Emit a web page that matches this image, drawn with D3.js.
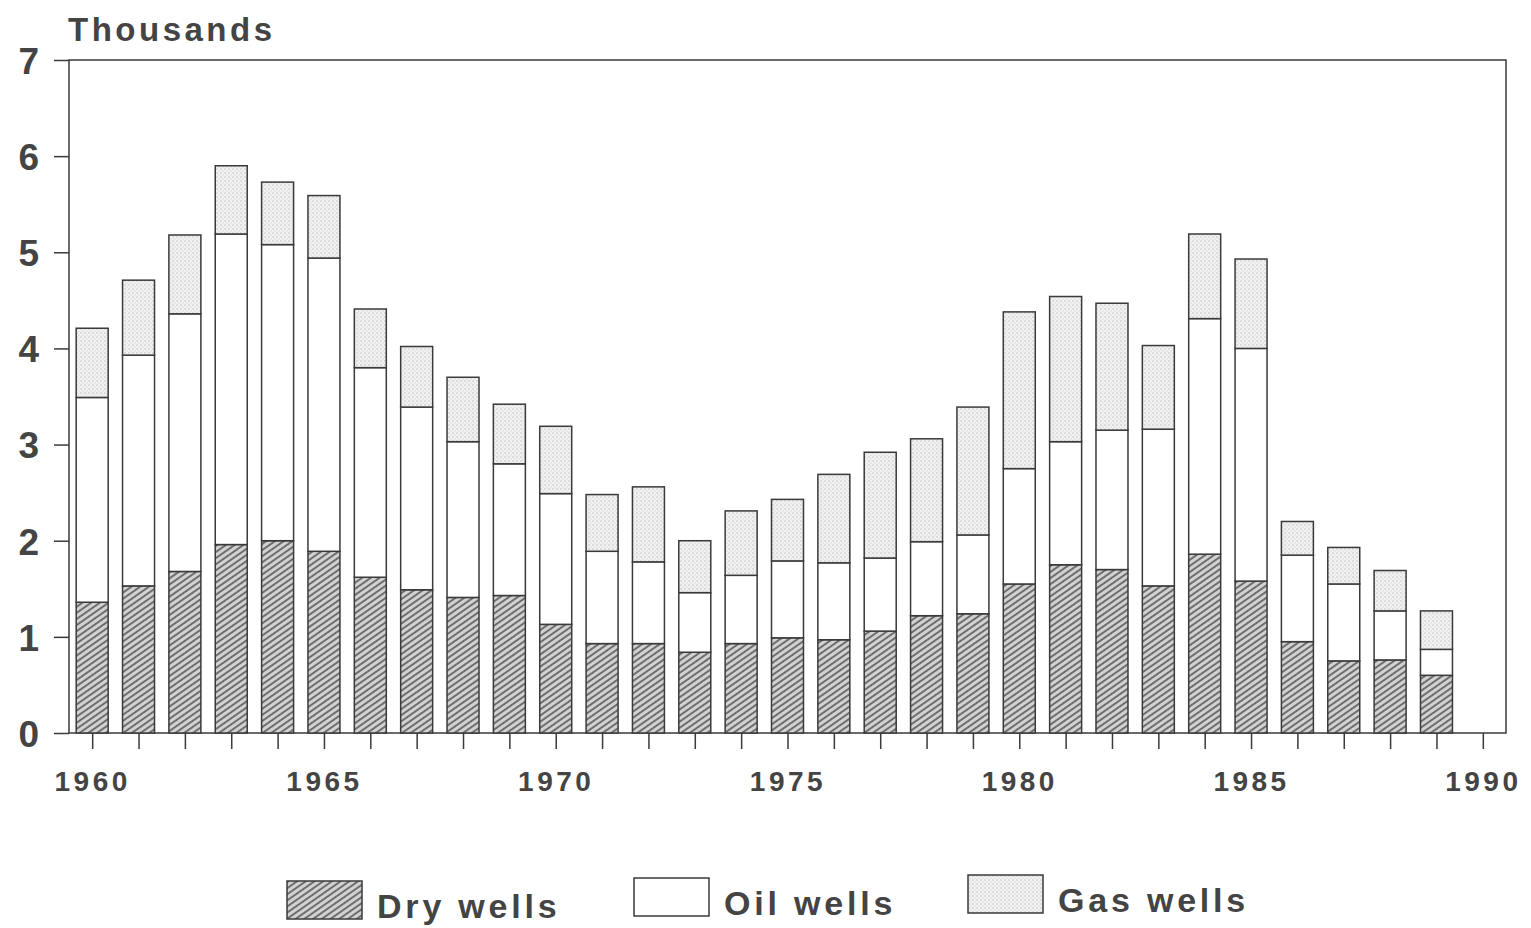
<!DOCTYPE html>
<html>
<head>
<meta charset="utf-8">
<script src="https://cdn.jsdelivr.net/npm/d3@7"></script>
<style>
  body { margin: 0; background: #fff; }
  svg text { font-family: "Liberation Sans", Arial, sans-serif; font-weight: bold; fill: #444; }
</style>
</head>
<body>
<svg width="1531" height="928"></svg>
<script>
// data (thousands of wells)
var years = d3.range(1960, 1990);
var dryWells = [1.36,1.53,1.68,1.96,2.00,1.89,1.62,1.49,1.41,1.43,1.13,0.93,0.93,0.84,0.93,0.99,0.97,1.06,1.22,1.24,1.55,1.75,1.70,1.53,1.86,1.58,0.95,0.75,0.76,0.60];
var oilWells = [2.13,2.40,2.68,3.23,3.08,3.05,2.18,1.90,1.62,1.37,1.36,0.96,0.85,0.62,0.71,0.80,0.80,0.76,0.77,0.82,1.20,1.28,1.45,1.63,2.45,2.42,0.90,0.80,0.51,0.27];
var gasWells = [0.72,0.78,0.82,0.71,0.65,0.65,0.61,0.63,0.67,0.62,0.70,0.59,0.78,0.54,0.67,0.64,0.92,1.10,1.07,1.33,1.63,1.51,1.32,0.87,0.88,0.93,0.35,0.38,0.42,0.40];
var seriesKeys = ["dry", "oil", "gas"];
var seriesLabels = ["Dry wells", "Oil wells", "Gas wells"];
var yTicks = [0,1,2,3,4,5,6,7];
var xLabelYears = [1960,1965,1970,1975,1980,1985,1990];

var table = years.map(function(y, i) {
    return { year: y, dry: dryWells[i], oil: oilWells[i], gas: gasWells[i] };
});

var svg = d3.select("svg");
// "top" is taken by window.top, so plot edges get their own names
var plotL = 69, plotR = 1506, plotT = 60, plotB = 733;

var x = d3.scaleLinear().domain([1959.5, 1990.5]).range([plotL, plotR]);
var y = d3.scaleLinear().domain([0, 7]).range([plotB, plotT]);
var barW = (x(1961) - x(1960)) * 0.69;
var ink = "#3a3a3a";

// patterns
var defs = svg.append("defs");
var hatch = defs.append("pattern")
    .attr("id", "hatch").attr("patternUnits", "userSpaceOnUse")
    .attr("width", 5).attr("height", 5)
    .attr("patternTransform", "rotate(-35)");
hatch.append("rect").attr("width", 5).attr("height", 5).attr("fill", "#d2d2d2");
hatch.append("line").attr("x1", 0).attr("y1", 1).attr("x2", 5).attr("y2", 1)
    .attr("stroke", "#555").attr("stroke-width", 1.6);

var dots = defs.append("pattern")
    .attr("id", "dots").attr("patternUnits", "userSpaceOnUse")
    .attr("width", 4).attr("height", 4);
dots.append("rect").attr("width", 4).attr("height", 4).attr("fill", "#f1f1f1");
dots.append("circle").attr("cx", 1).attr("cy", 1).attr("r", 0.7).attr("fill", "#b8b8b8");
dots.append("circle").attr("cx", 3).attr("cy", 3).attr("r", 0.6).attr("fill", "#cacaca");

var fills = { dry: "url(#hatch)", oil: "#fff", gas: "url(#dots)" };

// frame
svg.append("rect")
    .attr("x", plotL).attr("y", plotT)
    .attr("width", plotR - plotL).attr("height", plotB - plotT)
    .attr("fill", "none").attr("stroke", ink).attr("stroke-width", 1.5);

// y axis
var yAxis = d3.axisLeft(y).tickValues(yTicks).tickSize(15).tickPadding(15).tickFormat(d3.format("d"));
var gy = svg.append("g").attr("transform", "translate(" + plotL + ",0)").call(yAxis);
gy.select(".domain").remove();
gy.selectAll("line").attr("stroke", ink).attr("stroke-width", 1.5);
gy.selectAll("text").style("font-size", "37px").attr("fill", "#444").attr("dy", "0.36em");

// x axis
var xAxis = d3.axisBottom(x).tickValues(d3.range(1960, 1991)).tickSize(16)
    .tickFormat(function(d) { return xLabelYears.indexOf(d) >= 0 ? d : ""; });
var gx = svg.append("g").attr("transform", "translate(0," + plotB + ")").call(xAxis);
gx.select(".domain").remove();
gx.selectAll("line").attr("stroke", ink).attr("stroke-width", 1.5);
gx.selectAll("text").style("font-size", "28px").style("letter-spacing", "3.5px")
    .attr("fill", "#444").attr("y", 38);

// bars
var stacked = d3.stack().keys(seriesKeys)(table);
svg.append("g").selectAll("g")
    .data(stacked)
    .enter().append("g")
    .attr("fill", function(s) { return fills[s.key]; })
    .selectAll("rect")
    .data(function(s) { return s; })
    .enter().append("rect")
    .attr("x", function(d) { return x(d.data.year) - barW / 2; })
    .attr("y", function(d) { return y(d[1]); })
    .attr("width", barW)
    .attr("height", function(d) { return y(d[0]) - y(d[1]); })
    .attr("stroke", ink).attr("stroke-width", 1.5);

// title
svg.append("text").attr("x", 68).attr("y", 41)
    .style("font-size", "33px").style("letter-spacing", "3.5px")
    .text("Thousands");

// legend
var legendX = [287, 634, 968];
var leg = svg.append("g").selectAll("g")
    .data(seriesKeys)
    .enter().append("g")
    .attr("transform", function(d, i) { return "translate(" + legendX[i] + "," + (881 - i * 3) + ")"; });
leg.append("rect").attr("width", 75).attr("height", 38)
    .attr("fill", function(d) { return fills[d]; })
    .attr("stroke", ink).attr("stroke-width", 1.5);
leg.append("text").attr("x", 90).attr("y", 37)
    .style("font-size", "34px").style("letter-spacing", "3.8px")
    .text(function(d, i) { return seriesLabels[i]; });
</script>
</body>
</html>
